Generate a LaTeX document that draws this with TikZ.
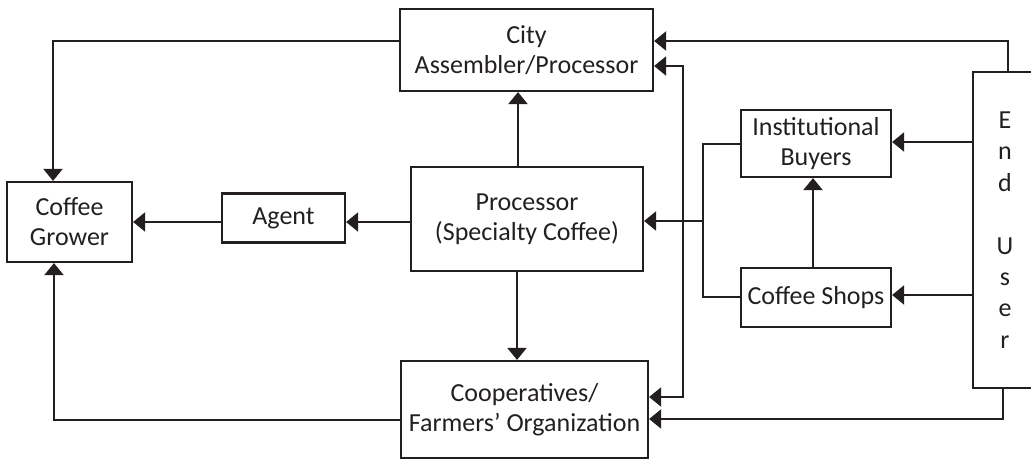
\documentclass[tikz,border=0pt]{standalone}
\usepackage{fontspec}
\setmainfont{Carlito}
\usetikzlibrary{arrows.meta}
\definecolor{ink}{HTML}{231F20}
\begin{document}
\begin{tikzpicture}[x=1pt,y=-1pt,
  box/.style={draw=ink, line width=2.2pt, inner sep=0pt, align=center,
    font=\fontsize{26}{30}\selectfont, text=ink},
  link/.style={draw=ink, line width=2.2pt},
  arr/.style={link, -{Triangle[length=12pt,width=19pt]}},
  biarr/.style={link, {Triangle[length=12pt,width=19pt]}-{Triangle[length=12pt,width=19pt]}}]
\useasboundingbox (0,0) rectangle (1031,460);
\clip (0,0) rectangle (1031,460);

\node[box, minimum width=253pt, minimum height=82pt] (city) at (526.5,50) {City\\Assembler/Processor};
\node[box, minimum width=125pt, minimum height=80pt] (grower) at (69.5,222) {Coffee\\Grower};
\node[box, minimum width=123pt, minimum height=49pt] (agent) at (283.5,218) {Agent};
\node[box, minimum width=232pt, minimum height=104pt] (proc) at (527,219) {Processor\\(Specialty Coffee)};
\node[box, minimum width=150pt, minimum height=67pt] (inst) at (816,143.5) {Institutional\\Buyers};
\node[box, minimum width=150pt, minimum height=59pt] (shops) at (816,297.5) {Coffee Shops};
\node[box, minimum width=64pt, minimum height=316pt, font=\fontsize{26}{31.4}\selectfont] (enduser) at (1005,230) {E\\n\\d\\[31.4pt]U\\s\\e\\r};
\node[box, minimum width=247pt, minimum height=97pt] (coop) at (524.5,409.5) {Cooperatives/\\Farmers’ Organization};

\coordinate (split) at (703,221);

\draw[arr] (city.west |- 0,41) -| (grower.north -| 53,0);
\draw[arr] (enduser.north -| 1008,0) |- (city.east |- 0,41);
\draw[biarr] (city.east |- 0,66) -- (683,66) -- (683,397) -- (coop.east |- 0,397);
\draw[arr] (proc.north -| 518,0) -- (city.south -| 518,0);
\draw[arr] (agent.west |- 0,222) -- (grower.east |- 0,222);
\draw[arr] (proc.west |- 0,222) -- (agent.east |- 0,222);
\draw[arr] (proc.south -| 517,0) -- (coop.north -| 517,0);
\draw[link] (inst.west |- 0,144) -| (split) |- (shops.west |- 0,297);
\draw[arr] (split) -- (proc.east |- split);
\draw[arr] (shops.north -| 813,0) -- (inst.south -| 813,0);
\draw[arr] (enduser.west |- 0,142) -- (inst.east |- 0,142);
\draw[arr] (enduser.west |- 0,295) -- (shops.east |- 0,295);
\draw[arr] (enduser.south -| 1003,0) |- (coop.east |- 0,419);
\draw[arr] (coop.west |- 0,420) -| (grower.south -| 54,0);
\end{tikzpicture}
\end{document}
